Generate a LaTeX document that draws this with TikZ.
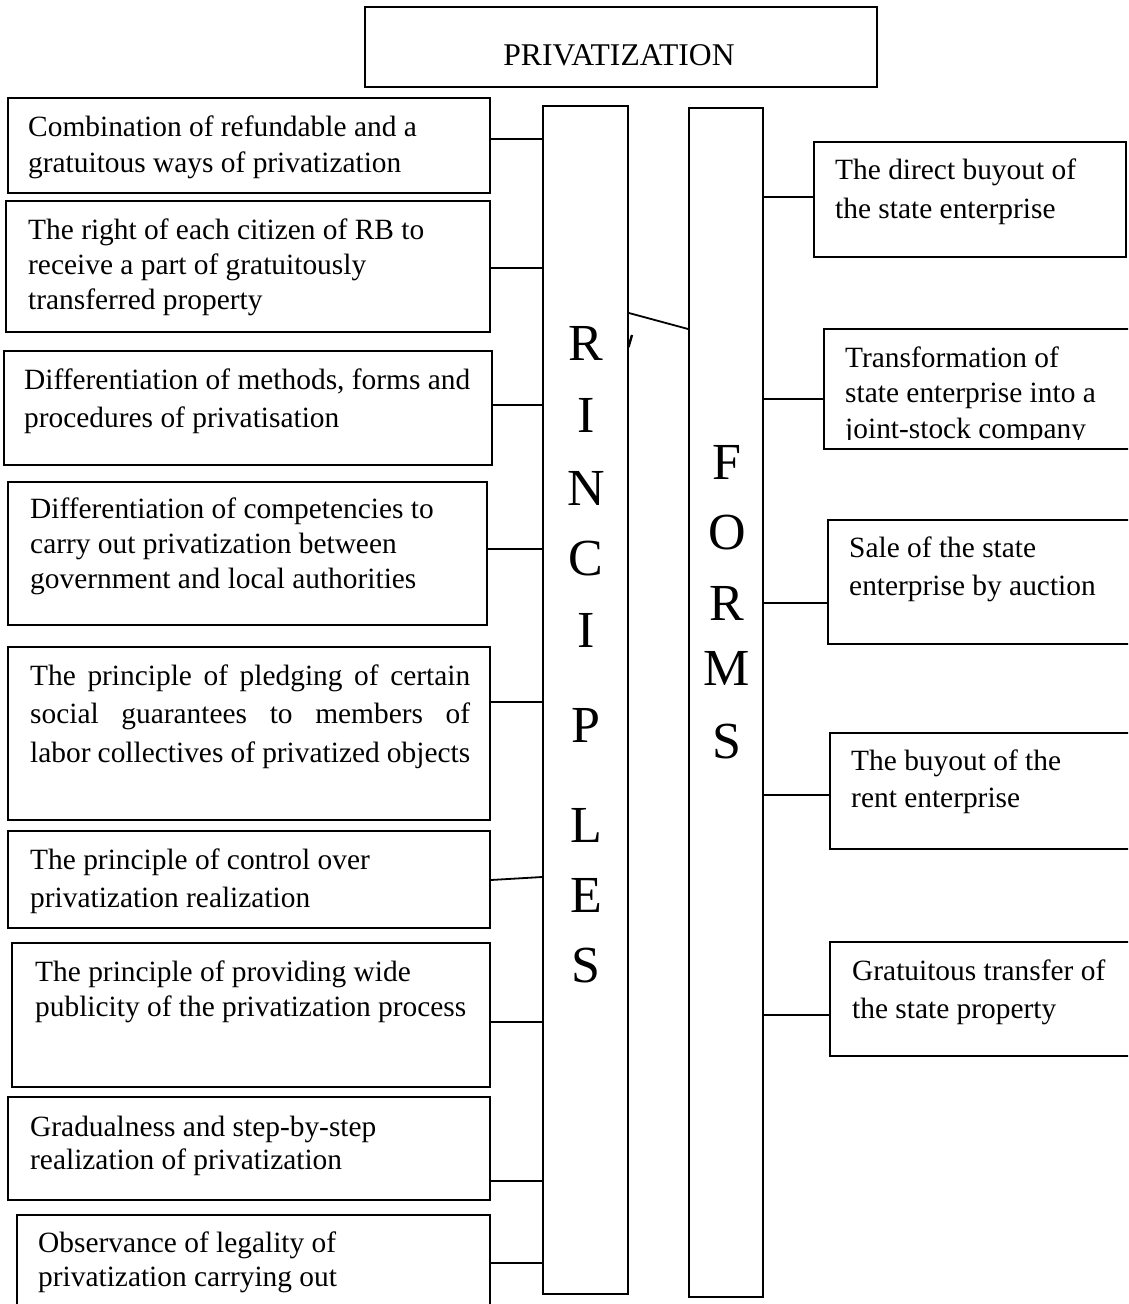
\documentclass[tikz,border=0pt]{standalone}
\usepackage{fontspec}
\setmainfont{Liberation Serif}
\usetikzlibrary{fit}
\begin{document}
\begin{tikzpicture}[x=1pt,y=-1pt,
  frame/.style={draw, line width=1.8pt, inner sep=0pt},
  wire/.style={line width=1.8pt},
  body/.style={anchor=base west, inner sep=0pt, font=\fontsize{29.4}{#1}\selectfont},
  body/.default=36,
  letter/.style={anchor=base, inner sep=0pt, font=\fontsize{52}{52}\selectfont},
  title/.style={anchor=base, inner sep=0pt, font=\fontsize{31.6}{32}\selectfont}]
\useasboundingbox (0,0) rectangle (1128,1304);
\clip (0,0) rectangle (1128,1304);

% heading
\node[frame, fit={(365,7) (877,87)}] (top) {};
\node[title] (toptext) at (619,65) {PRIVATIZATION};

% the two vertical columns
\node[frame, fit={(543,106) (628,1294)}] (cP) {};
\node[frame, fit={(689,108) (763,1297)}] (cF) {};

\foreach \ch/\yb [count=\i] in {R/360, I/432, N/505, C/575, I/647, P/742, L/842, E/912, S/982}
  \node[letter] (p\i) at (586,\yb) {\ch};
\foreach \ch/\yb [count=\i] in {F/479, O/549, R/620, M/685, S/758}
  \node[letter] (f\i) at (727,\yb) {\ch};
\draw[line width=2.4pt] (632,335) -- (628.5,347);

\draw[wire] (cP.east |- 0,313) -- (cF.west |- 0,329);

% principles
\node[frame, fit={(8,98) (490,193)}] (b1) {};
\node[body] (t1) at (28,136) {\parbox[t]{470pt}{Combination of refundable and a\\ gratuitous ways of privatization}};
\node[frame, fit={(6,201) (490,332)}] (b2) {};
\node[body=35] (t2) at (28,239) {\parbox[t]{470pt}{The right of each citizen of RB to\\ receive a part of gratuitously\\ transferred property}};
\node[frame, fit={(4,351) (492,465)}] (b3) {};
\node[body=38] (t3) at (24,389) {\parbox[t]{470pt}{Differentiation of methods, forms and\\ procedures of privatisation}};
\node[frame, fit={(8,482) (487,625)}] (b4) {};
\node[body=35] (t4) at (30,518) {\parbox[t]{470pt}{Differentiation of competencies to\\ carry out privatization between\\ government and local authorities}};
\node[frame, fit={(8,647) (490,820)}] (b5) {};
\node[body=38.5] (t5) at (30,685) {\parbox[t]{440pt}{\makebox[440pt][s]{The principle of pledging of certain}\\ \makebox[440pt][s]{social guarantees to members of}\\ \makebox[440pt][s]{labor collectives of privatized objects}}};
\node[frame, fit={(8,831) (490,928)}] (b6) {};
\node[body=38] (t6) at (30,869) {\parbox[t]{470pt}{The principle of control over\\ privatization realization}};
\node[frame, fit={(12,943) (490,1087)}] (b7) {};
\node[body=35] (t7) at (35,981) {\parbox[t]{470pt}{The principle of providing wide\\ publicity of the privatization process}};
\node[frame, fit={(8,1097) (490,1200)}] (b8) {};
\node[body=33] (t8) at (30,1136) {\parbox[t]{470pt}{Gradualness and step-by-step\\ realization of privatization}};
\node[frame, fit={(17,1215) (490,1325)}] (b9) {};
\node[body=34] (t9) at (38,1252) {\parbox[t]{470pt}{Observance of legality of\\ privatization carrying out}};

\draw[wire] (b1.east |- 0,139) -- (cP.west |- 0,139);
\draw[wire] (b2.east |- 0,268) -- (cP.west |- 0,268);
\draw[wire] (b3.east |- 0,405) -- (cP.west |- 0,405);
\draw[wire] (b4.east |- 0,549) -- (cP.west |- 0,549);
\draw[wire] (b5.east |- 0,702) -- (cP.west |- 0,702);
\draw[wire] (b6.east |- 0,880) -- (cP.west |- 0,877);
\draw[wire] (b7.east |- 0,1022) -- (cP.west |- 0,1022);
\draw[wire] (b8.east |- 0,1181) -- (cP.west |- 0,1181);
\draw[wire] (b9.east |- 0,1263) -- (cP.west |- 0,1263);

% forms
\node[frame, fit={(814,142) (1126,257)}] (r1) {};
\node[body=39] (s1) at (835,179) {\parbox[t]{300pt}{The direct buyout of\\ the state enterprise}};
\node[frame, fit={(824,329) (1140,449)}] (r2) {};
\begin{scope}
  \clip (820,330) rectangle (1128,439);
  \node[body=35.5] (s2) at (845,367) {\parbox[t]{300pt}{Transformation of\\ state enterprise into a\\ joint-stock company}};
\end{scope}
\node[frame, fit={(828,520) (1140,644)}] (r3) {};
\node[body=38] (s3) at (849,557) {\parbox[t]{300pt}{Sale of the state\\ enterprise by auction}};
\node[frame, fit={(830,733) (1140,849)}] (r4) {};
\node[body=37.5] (s4) at (851,770) {\parbox[t]{300pt}{The buyout of the\\ rent enterprise}};
\node[frame, fit={(830,942) (1140,1056)}] (r5) {};
\node[body=38] (s5) at (852,980) {\parbox[t]{300pt}{Gratuitous transfer of\\ the state property}};

\draw[wire] (cF.east |- 0,197) -- (r1.west |- 0,197);
\draw[wire] (cF.east |- 0,399) -- (r2.west |- 0,399);
\draw[wire] (cF.east |- 0,603) -- (r3.west |- 0,603);
\draw[wire] (cF.east |- 0,795) -- (r4.west |- 0,795);
\draw[wire] (cF.east |- 0,1015) -- (r5.west |- 0,1015);
\end{tikzpicture}
\end{document}
